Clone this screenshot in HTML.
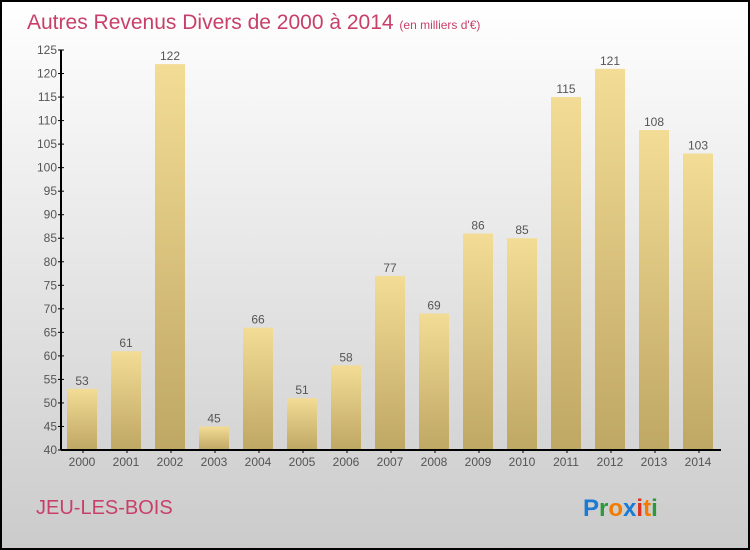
<!DOCTYPE html>
<html><head><meta charset="utf-8"><style>
body{margin:0}
svg{display:block;font-family:"Liberation Sans",sans-serif}
</style></head><body>
<svg id="c" width="750" height="550">
<defs>
<linearGradient id="bg" x1="0" y1="0" x2="0" y2="1"><stop offset="0" stop-color="#ffffff"/><stop offset="1" stop-color="#cbcbcb"/></linearGradient>
<linearGradient id="bar" x1="0" y1="0" x2="0" y2="1"><stop offset="0" stop-color="#f3dc95"/><stop offset="1" stop-color="#bfa764"/></linearGradient>
</defs>
<rect x="1" y="1" width="748" height="548" fill="url(#bg)" stroke="#000" stroke-width="2"/>
<text x="27" y="29" font-size="21" fill="#c8406a">Autres Revenus Divers de 2000 à 2014 <tspan font-size="12">(en milliers d'€)</tspan></text>
<text x="36" y="514" font-size="20" fill="#c8406a">JEU-LES-BOIS</text>
<text x="583" y="516" font-size="24" font-weight="bold"><tspan fill="#1a7ad4">P</tspan><tspan fill="#2a9a3a">r</tspan><tspan fill="#f07c00">o</tspan><tspan fill="#1a7ad4">x</tspan><tspan fill="#e03020">i</tspan><tspan fill="#f07c00">t</tspan><tspan fill="#2a9a3a">i</tspan></text>
<g id="plot"></g>
</svg>
<script>
const years=["2000","2001","2002","2003","2004","2005","2006","2007","2008","2009","2010","2011","2012","2013","2014"];
const values=[53,61,122,45,66,51,58,77,69,86,85,115,121,108,103];
const ticks=[40,45,50,55,60,65,70,75,80,85,90,95,100,105,110,115,120,125];
const X0=61,Y0=450,slot=44,ymin=40,ymax=125,ppu=400/(ymax-ymin);
const y=v=>Y0-(v-ymin)*ppu;
const g=document.getElementById('plot');const NS="http://www.w3.org/2000/svg";
function mk(t,a,txt){const e=document.createElementNS(NS,t);for(const k in a)e.setAttribute(k,a[k]);if(txt!==undefined)e.textContent=txt;g.appendChild(e);return e;}
years.forEach((yr,i)=>{
 const x=X0+i*slot+6;
 const r=mk('rect',{x:x,y:y(values[i]),width:30,height:Y0-y(values[i]),fill:'url(#bar)'});
 
 
 const t=mk('text',{x:x+15,y:y(values[i])-4,'font-size':12,fill:'#555','text-anchor':'middle'},values[i]);
 
 
 const l=mk('text',{x:x+15,y:Y0+16,'font-size':12,fill:'#555','text-anchor':'middle'},yr);
 
 
 mk('line',{x1:X0+i*slot+22,x2:X0+i*slot+22,y1:Y0,y2:Y0+3,stroke:'#000'});
});
ticks.forEach(v=>{
 mk('line',{x1:X0-3,x2:X0+3,y1:y(v),y2:y(v),stroke:'#000'});
 const t=mk('text',{x:X0-4,y:y(v)+4,'font-size':12,fill:'#555','text-anchor':'end'},v);
 
 
});
const ya=mk('line',{x1:X0,x2:X0,y1:y(ymax),y2:Y0,stroke:'#000','stroke-width':2});


const xa=mk('line',{x1:X0,x2:X0+15*slot,y1:Y0,y2:Y0,stroke:'#000','stroke-width':2});


</script>
</body></html>
